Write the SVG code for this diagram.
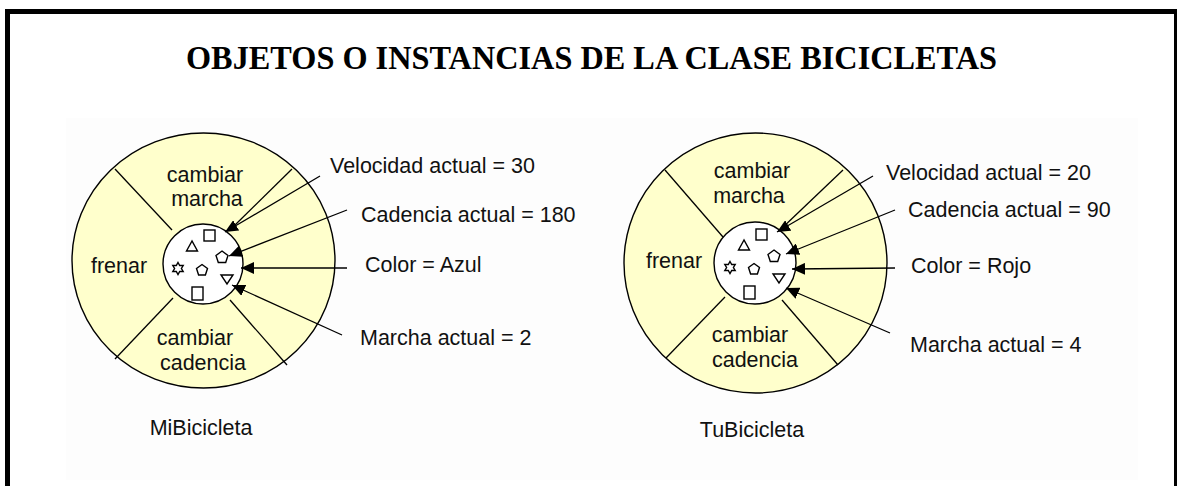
<svg xmlns="http://www.w3.org/2000/svg" xmlns:xlink="http://www.w3.org/1999/xlink" width="1179" height="486" viewBox="0 0 1179 486">
<style>
.lbl{font-family:"Liberation Sans",Arial,sans-serif;font-size:21.5px;fill:#111}
.mid{text-anchor:middle}
.title{font-family:"Liberation Serif","Times New Roman",serif;font-weight:bold;font-size:34px;fill:#000}
.outer{fill:#ffffcc;stroke:#000;stroke-width:1.4}
.inner{fill:#fff;stroke:#000;stroke-width:1.4}
.div{stroke:#000;stroke-width:1.3;fill:none}
.arr{stroke:#000;stroke-width:1.3;fill:none;marker-end:url(#ah)}
.g{fill:#fff;stroke:#000;stroke-width:1.4}
</style>
<defs>
<marker id="ah" markerUnits="userSpaceOnUse" markerWidth="14" markerHeight="12" refX="13" refY="6" orient="auto">
<path d="M0,0 L13,6 L0,12 z" fill="#000"/>
</marker>
<g id="glyphs">
<rect class="g" x="1" y="-34" width="11" height="11"/>
<polygon class="g" points="-11,-23 -16.5,-13 -5.5,-13"/>
<polygon class="g" points="19,-13 25,-8.5 22.7,-1.5 15.3,-1.5 13,-8.5"/>
<polygon class="g" points="-25,-1.5 -23.3,1.5 -19.8,1.5 -21.6,4.5 -19.8,7.5 -23.3,7.5 -25,10.5 -26.7,7.5 -30.2,7.5 -28.4,4.5 -30.2,1.5 -26.7,1.5"/>
<polygon class="g" points="-1,0.5 4.5,4.5 2.4,11 -4.4,11 -6.5,4.5"/>
<polygon class="g" points="18,11 30,11 24,20"/>
<rect class="g" x="-11" y="23" width="11" height="13"/>
</g>
</defs>
<rect x="0" y="0" width="1179" height="486" fill="#fff"/>
<rect x="66" y="118" width="1072" height="362" fill="#fdfdfd"/>
<g id="frame">
<rect x="5" y="9" width="5" height="477" fill="#000"/>
<rect x="5" y="9" width="1172" height="5" fill="#000"/>
<rect x="1174" y="9" width="3" height="477" fill="#000"/>
</g>
<g id="title">
<text class="title mid" x="591.5" y="69" textLength="811" lengthAdjust="spacingAndGlyphs">OBJETOS O INSTANCIAS DE LA CLASE BICICLETAS</text>
</g>
<g id="MiBicicleta">
<ellipse class="outer" cx="203.5" cy="260.5" rx="131.5" ry="127.5"/>
<line class="div" x1="115" y1="169" x2="172" y2="230"/>
<line class="div" x1="292" y1="169" x2="233" y2="227"/>
<line class="div" x1="173" y1="298" x2="115" y2="359"/>
<line class="div" x1="230" y1="300" x2="287" y2="365"/>
<circle class="inner" cx="203" cy="264" r="40"/>
<use xlink:href="#glyphs" transform="translate(203,264)"/>
<text class="lbl mid" x="205" y="182">cambiar</text>
<text class="lbl mid" x="207" y="206">marcha</text>
<text class="lbl mid" x="119" y="273">frenar</text>
<text class="lbl mid" x="195" y="345">cambiar</text>
<text class="lbl mid" x="203" y="370">cadencia</text>
<text class="lbl mid" x="201" y="435">MiBicicleta</text>
</g>
<g id="TuBicicleta">
<ellipse class="outer" cx="755.5" cy="263" rx="131.5" ry="130"/>
<line class="div" x1="665" y1="170" x2="723" y2="237"/>
<line class="div" x1="843" y1="170" x2="780" y2="230"/>
<line class="div" x1="725" y1="297" x2="666" y2="358"/>
<line class="div" x1="782" y1="300" x2="838" y2="365"/>
<circle class="inner" cx="755" cy="263" r="41"/>
<use xlink:href="#glyphs" transform="translate(755,263)"/>
<text class="lbl mid" x="752" y="178">cambiar</text>
<text class="lbl mid" x="749" y="203">marcha</text>
<text class="lbl mid" x="674" y="268">frenar</text>
<text class="lbl mid" x="750" y="342">cambiar</text>
<text class="lbl mid" x="755" y="367">cadencia</text>
<text class="lbl mid" x="752" y="437">TuBicicleta</text>
</g>
<g id="labels">
<text class="lbl" x="330" y="173">Velocidad actual = 30</text>
<text class="lbl" x="361" y="222">Cadencia actual = 180</text>
<text class="lbl" x="365" y="272">Color = Azul</text>
<text class="lbl" x="360" y="345">Marcha actual = 2</text>
<text class="lbl" x="886" y="180">Velocidad actual = 20</text>
<text class="lbl" x="908" y="217">Cadencia actual = 90</text>
<text class="lbl" x="911" y="273">Color = Rojo</text>
<text class="lbl" x="910" y="352">Marcha actual = 4</text>
</g>
<g id="connectors">
<line class="arr" x1="320" y1="176" x2="225" y2="232"/>
<line class="arr" x1="347" y1="210" x2="229" y2="256"/>
<line class="arr" x1="347" y1="268" x2="241" y2="268"/>
<line class="arr" x1="342" y1="335" x2="232" y2="285"/>
<line class="arr" x1="873" y1="176" x2="777" y2="232"/>
<line class="arr" x1="895" y1="210" x2="786" y2="254"/>
<line class="arr" x1="895" y1="268" x2="792" y2="269"/>
<line class="arr" x1="890" y1="333" x2="786" y2="288"/>
</g>
</svg>
